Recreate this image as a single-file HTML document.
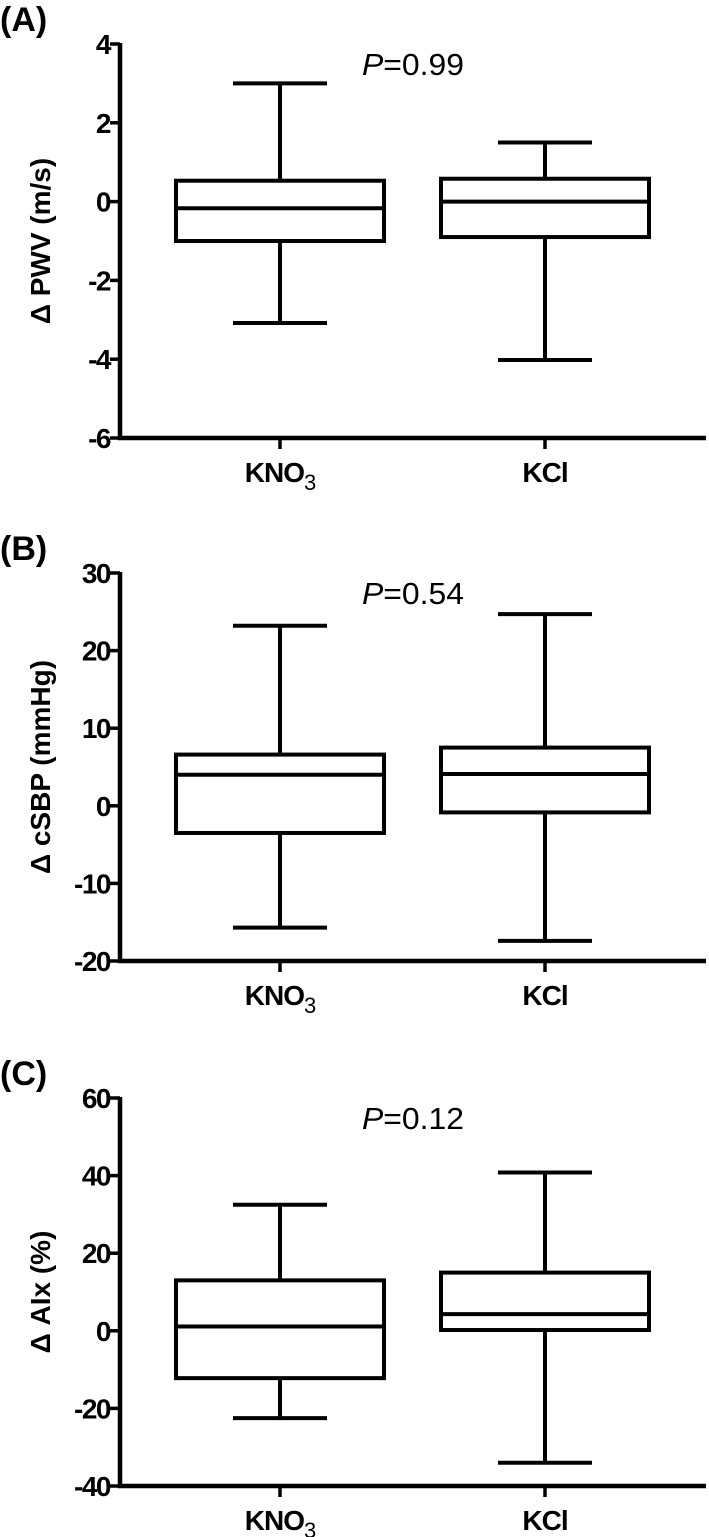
<!DOCTYPE html>
<html><head><meta charset="utf-8"><style>
html,body{margin:0;padding:0;background:#fff;}
svg{display:block;font-family:"Liberation Sans",Arial,sans-serif;}
</style></head><body>
<svg id="chart" width="709" height="1537" viewBox="0 0 709 1537" xmlns="http://www.w3.org/2000/svg"></svg>
<script>
const categories = ["KNO3", "KCl"];
const panelLetters = ["(A)", "(B)", "(C)"];
const panelTitles = ["\u0394 PWV (m/s)", "\u0394 cSBP (mmHg)", "\u0394 AIx (%)"];
const pValues = ["0.99", "0.54", "0.12"];
const yMins = [-6, -20, -40];
const yMaxs = [4, 30, 60];
const yTicksA = [-6, -4, -2, 0, 2, 4];
const yTicksB = [-20, -10, 0, 10, 20, 30];
const yTicksC = [-40, -20, 0, 20, 40, 60];
// per category: [min, q1, median, q3, max]
const pwvKNO3 = [-3.08, -1.0, -0.17, 0.53, 3.0];
const pwvKCl = [-4.02, -0.9, 0.0, 0.58, 1.5];
const sbpKNO3 = [-15.7, -3.5, 4.0, 6.6, 23.2];
const sbpKCl = [-17.4, -0.85, 4.1, 7.5, 24.7];
const aixKNO3 = [-22.5, -12.2, 1.1, 13.0, 32.5];
const aixKCl = [-34.0, 0.2, 4.3, 15.0, 40.8];

const svg = document.getElementById('chart');
const NS = 'http://www.w3.org/2000/svg';
function mk(tag, attrs, parent){
  const e = document.createElementNS(NS, tag);
  for (const k in attrs) e.setAttribute(k, attrs[k]);
  (parent||svg).appendChild(e);
  return e;
}
const tickSets = [yTicksA, yTicksB, yTicksC];
const dataSets = [[pwvKNO3, pwvKCl], [sbpKNO3, sbpKCl], [aixKNO3, aixKCl]];
const tops = [44, 573, 1098];
const bottoms = [438, 961, 1486];
const axisX = 120, axisEnd = 706;
const catX = [280, 545];
const boxHalf = 104, capHalf = 47;

for (let p = 0; p < 3; p++) {
  const g = mk('g', {});
  
  
  const top = tops[p], bot = bottoms[p];
  const y = v => bot - (v - yMins[p]) / (yMaxs[p] - yMins[p]) * (bot - top);

  const lab = mk('text', {x: 0, y: top - 13, 'font-size': 34, 'font-weight': 'bold', fill: '#000'}, g);
  lab.textContent = panelLetters[p];
  
  

  const yAxis = mk('line', {x1: axisX, y1: top - 1, x2: axisX, y2: bot + 2, stroke: '#000', 'stroke-width': 4.5}, g);
  
  
  const xAxis = mk('line', {x1: axisX - 2, y1: bot, x2: axisEnd, y2: bot, stroke: '#000', 'stroke-width': 4.5}, g);
  
  

  tickSets[p].forEach(t => {
    const ty = y(t);
    const tk = mk('line', {x1: axisX - 10, y1: ty, x2: axisX, y2: ty, stroke: '#000', 'stroke-width': 3.5}, g);
    
    
    const tl = mk('text', {x: axisX - 10, y: ty + 10, 'font-size': 28, 'font-weight': 'bold', 'text-anchor': 'end', fill: '#000', 'letter-spacing': '-1.5'}, g);
    tl.textContent = t;
    
    
  });

  const title = mk('text', {x: 0, y: 0, 'font-size': 28, 'font-weight': 'bold', 'text-anchor': 'middle', fill: '#000',
    transform: 'translate(50,' + ((top + bot) / 2) + ') rotate(-90)'}, g);
  title.textContent = panelTitles[p];
  
  

  const pt = mk('text', {x: 362, y: top + 31, 'font-size': 31, fill: '#000', textLength: 102, lengthAdjust: 'spacingAndGlyphs'}, g);
  const pi = mk('tspan', {'font-style': 'italic'}, pt);
  pi.textContent = 'P';
  const pr = mk('tspan', {}, pt);
  pr.textContent = '=' + pValues[p];
  
  

  categories.forEach((c, i) => {
    const cx = catX[i];
    const xt = mk('line', {x1: cx, y1: bot, x2: cx, y2: bot + 11, stroke: '#000', 'stroke-width': 3.5}, g);
    
    
    const xl = mk('text', {x: cx, y: bot + 44, 'font-size': 28, 'font-weight': 'bold', 'text-anchor': 'middle', fill: '#000', 'letter-spacing': '-1'}, g);
    if (c === 'KNO3') {
      const a = mk('tspan', {}, xl); a.textContent = 'KNO';
      const b = mk('tspan', {dy: 8, 'font-size': 22, 'font-weight': 'normal'}, xl); b.textContent = '3';
    } else {
      xl.textContent = 'KCl';
    }
    
    

    const d = dataSets[p][i];
    const bg = mk('g', {stroke: '#000', 'stroke-width': 4, fill: 'none'}, g);
    
    
    mk('line', {x1: cx, y1: y(d[4]), x2: cx, y2: y(d[3])}, bg);
    mk('line', {x1: cx, y1: y(d[1]), x2: cx, y2: y(d[0])}, bg);
    mk('line', {x1: cx - capHalf, y1: y(d[4]), x2: cx + capHalf, y2: y(d[4])}, bg);
    mk('line', {x1: cx - capHalf, y1: y(d[0]), x2: cx + capHalf, y2: y(d[0])}, bg);
    mk('rect', {x: cx - boxHalf, y: y(d[3]), width: boxHalf * 2, height: y(d[1]) - y(d[3])}, bg);
    mk('line', {x1: cx - boxHalf, y1: y(d[2]), x2: cx + boxHalf, y2: y(d[2])}, bg);
  });
}
</script>
</body></html>
